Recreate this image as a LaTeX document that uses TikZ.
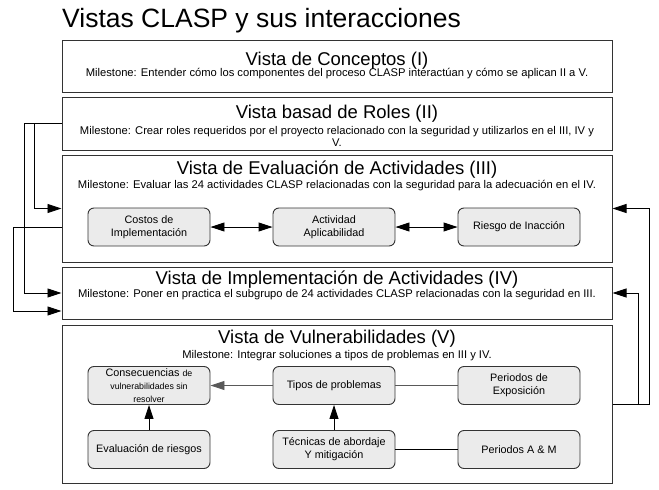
\documentclass[tikz,border=0pt]{standalone}
\usepackage{fontspec}
\setmainfont{Liberation Sans}
\usetikzlibrary{arrows.meta}
\newcommand\myfs[2]{\fontsize{#1}{#2}\selectfont}
\definecolor{boxline}{HTML}{333333}
\definecolor{boxfill}{HTML}{EBEBEB}
\begin{document}
\begin{tikzpicture}[x=1pt,y=-1pt,
  view/.style={draw=boxline, line width=1pt, minimum width=550pt, inner sep=0pt},
  inbox/.style={draw=boxline, fill=boxfill, rounded corners=6pt, minimum width=122pt, minimum height=38pt, align=center, font=\myfs{10.8}{13}, inner sep=1pt, line width=0.9pt},
  head/.style={font=\myfs{18.5}{22}, inner sep=0pt},
  mile/.style={font=\myfs{11.2}{12.5}, inner sep=0pt, align=center},
  arr/.style={-{Triangle[length=14pt,width=9pt]}, line width=0.9pt},
  darr/.style={{Triangle[length=14pt,width=9pt]}-{Triangle[length=14pt,width=9pt]}, line width=0.9pt},
  plain/.style={line width=0.9pt},
]
\useasboundingbox (0,0) rectangle (659,490);

% title
\node[anchor=base west, inner sep=0pt, font=\myfs{26.5}{31}] (title) at (62,27) {Vistas CLASP y sus interacciones};

% views
\node[view, minimum height=52pt] (b1) at (337,66) {};
\node[view, minimum height=53pt] (b2) at (337,123.5) {};
\node[view, minimum height=107pt] (b3) at (337,208.5) {};
\node[view, minimum height=52pt] (b4) at (337,293) {};
\node[view, minimum height=158pt] (b5) at (337,404) {};

\node[head] (h1) at (337,61) {Vista de Conceptos (I)};
\node[mile] (m1) at (337,74) {Milestone: Entender cómo los componentes del proceso CLASP interactúan y cómo se aplican II a V.};

\node[head] (h2) at (337,113.5) {Vista basad de Roles (II)};
\node[mile] (m2) at (337,136.5) {Milestone: Crear roles requeridos por el proyecto relacionado con la seguridad y utilizarlos en el III, IV y\\V.};

\node[head] (h3) at (337,169.5) {Vista de Evaluación de Actividades (III)};
\node[mile] (m3) at (337,186) {Milestone: Evaluar las 24 actividades CLASP relacionadas con la seguridad para la adecuación en el IV.};

\node[head] (h4) at (337,280) {Vista de Implementación de Actividades (IV)};
\node[mile] (m4) at (337,294.5) {Milestone: Poner en practica el subgrupo de 24 actividades CLASP relacionadas con la seguridad en III.};

\node[head] (h5) at (337,338.5) {Vista de Vulnerabilidades (V)};
\node[mile] (m5) at (337,355.5) {Milestone: Integrar soluciones a tipos de problemas en III y IV.};

% inner nodes of III
\node[inbox] (costos) at (149,227) {Costos de\\Implementación};
\node[inbox] (activ) at (334,227) {Actividad\\Aplicabilidad};
\node[inbox] (riesgo) at (519,227) {Riesgo de Inacción};
\draw[darr] (costos) -- (activ);
\draw[darr] (activ) -- (riesgo);

% inner nodes of V
\node[inbox] (conse) at (149,385.5) {Consecuencias {\myfs{8.8}{10.5}de}\\{\myfs{8.8}{10.5}vulnerabilidades sin}\\{\myfs{8.8}{10.5}resolver}};
\node[inbox] (tipos) at (334,385.5) {Tipos de problemas};
\node[inbox] (expo) at (519,385.5) {Periodos de\\Exposición};
\node[inbox] (evalr) at (149,449.5) {Evaluación de riesgos};
\node[inbox] (tecn) at (334,449.5) {Técnicas de abordaje\\Y mitigación};
\node[inbox] (pam) at (519,449.5) {Periodos A \& M};

\draw[arr, draw=black!65] (tipos) -- (conse);
\draw[arr] (evalr) -- (conse);
\draw[arr] (tecn) -- (tipos);
\draw[plain, draw=black!65] (expo) -- (tipos);
\draw[plain] (pam) -- (tecn);

% left connectors
\draw[arr] (b2.west) -- ++(-37,0) |- (b4.west);
\draw[arr] ([xshift=-27pt]b2.west) |- (b3.west);
\draw[arr] ([yshift=-18.5pt]b3.west) -- ++(-48,0) |- ([yshift=-18pt]b4.west);

% right connectors
\draw[arr] (b5.east) -- ++(37,0) |- (b3.east);
\draw[arr] ([xshift=26pt]b5.east) |- (b4.east);
\end{tikzpicture}
\end{document}
